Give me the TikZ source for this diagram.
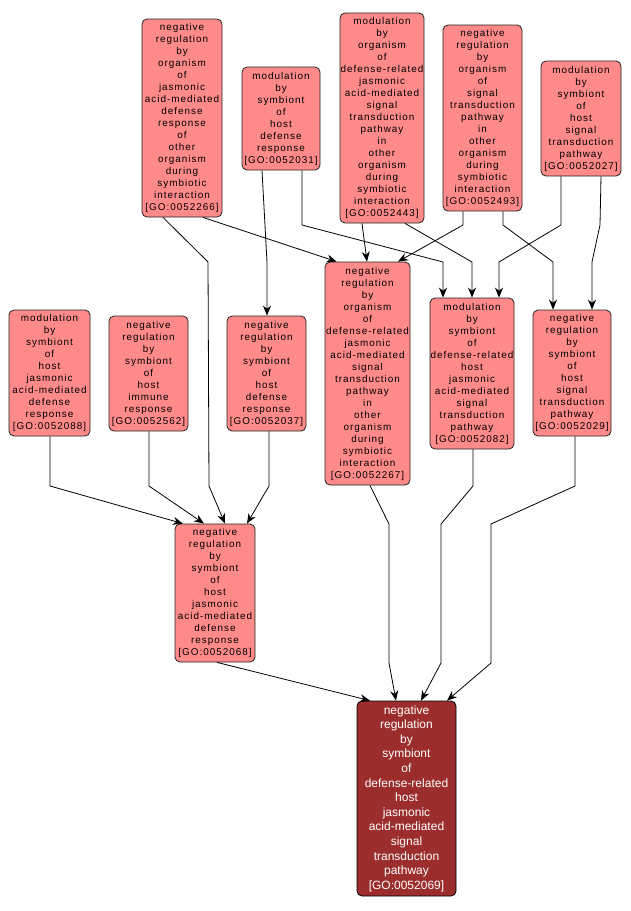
\documentclass[tikz,border=0pt]{standalone}
\usepackage{fontspec}
\usetikzlibrary{arrows.meta,calc}
\newfontfamily\golab[LetterSpace=10]{Liberation Sans}
\newfontfamily\godk{Liberation Sans}
\definecolor{gofill}{HTML}{FF8A8A}
\definecolor{godark}{HTML}{9B2D2D}
\definecolor{goline}{HTML}{222222}
\tikzset{
  gonode/.style={draw=goline, line width=0.8pt, rounded corners=5pt, fill=gofill,
    align=center, inner sep=0pt, text=black,
    font={\golab\fontsize{9.9}{12}\selectfont}},
  gotarget/.style={draw=black, line width=0.8pt, rounded corners=5pt, fill=godark,
    align=center, inner sep=0pt, text=white,
    font={\godk\fontsize{12}{14.6}\selectfont}},
  goedge/.style={draw=black, line width=0.8pt, -{Stealth[length=10pt,width=8pt]}}
}
\begin{document}
\begin{tikzpicture}[x=1pt,y=-1pt]
\useasboundingbox (0,0) rectangle (630,911);
\fill[white] (0,0) rectangle (630,911);

% top row
\node[gonode, minimum width=80pt, minimum height=198pt] (n266) at (182,118)
 {negative\\regulation\\by\\organism\\of\\jasmonic\\acid-mediated\\defense\\response\\of\\other\\organism\\during\\symbiotic\\interaction\\{[}GO:0052266{]}};
\node[gonode, minimum width=78pt, minimum height=103pt] (n031) at (281,118.5)
 {modulation\\by\\symbiont\\of\\host\\defense\\response\\{[}GO:0052031{]}};
\node[gonode, minimum width=84pt, minimum height=210pt] (n443) at (382,118)
 {modulation\\by\\organism\\of\\defense-related\\jasmonic\\acid-mediated\\signal\\transduction\\pathway\\in\\other\\organism\\during\\symbiotic\\interaction\\{[}GO:0052443{]}};
\node[gonode, minimum width=79pt, minimum height=186pt] (n493) at (482.5,118)
 {negative\\regulation\\by\\organism\\of\\signal\\transduction\\pathway\\in\\other\\organism\\during\\symbiotic\\interaction\\{[}GO:0052493{]}};
\node[gonode, minimum width=80pt, minimum height=115pt] (n027) at (581,118.5)
 {modulation\\by\\symbiont\\of\\host\\signal\\transduction\\pathway\\{[}GO:0052027{]}};

% middle row
\node[gonode, minimum width=81pt, minimum height=126pt] (n088) at (49.5,373)
 {modulation\\by\\symbiont\\of\\host\\jasmonic\\acid-mediated\\defense\\response\\{[}GO:0052088{]}};
\node[gonode, minimum width=79pt, minimum height=115pt] (n562) at (148.5,373.5)
 {negative\\regulation\\by\\symbiont\\of\\host\\immune\\response\\{[}GO:0052562{]}};
\node[gonode, minimum width=79pt, minimum height=115pt] (n037) at (266.5,373.5)
 {negative\\regulation\\by\\symbiont\\of\\host\\defense\\response\\{[}GO:0052037{]}};
\node[gonode, minimum width=85pt, minimum height=223pt] (n267) at (367.5,373.5)
 {negative\\regulation\\by\\organism\\of\\defense-related\\jasmonic\\acid-mediated\\signal\\transduction\\pathway\\in\\other\\organism\\during\\symbiotic\\interaction\\{[}GO:0052267{]}};
\node[gonode, minimum width=84pt, minimum height=151pt] (n082) at (472,373.5)
 {modulation\\by\\symbiont\\of\\defense-related\\host\\jasmonic\\acid-mediated\\signal\\transduction\\pathway\\{[}GO:0052082{]}};
\node[gonode, minimum width=78pt, minimum height=126pt] (n029) at (572,373)
 {negative\\regulation\\by\\symbiont\\of\\host\\signal\\transduction\\pathway\\{[}GO:0052029{]}};

% lower
\node[gonode, minimum width=80pt, minimum height=138pt] (n068) at (215,593)
 {negative\\regulation\\by\\symbiont\\of\\host\\jasmonic\\acid-mediated\\defense\\response\\{[}GO:0052068{]}};
\node[gotarget, minimum width=99pt, minimum height=195pt] (n069) at (406.5,798.5)
 {negative\\regulation\\by\\symbiont\\of\\defense-related\\host\\jasmonic\\acid-mediated\\signal\\transduction\\pathway\\{[}GO:0052069{]}};

% edges
\draw[goedge] ($(n266.south)+(-19,0)$) -- (208,262) -- (209,486) -- ($(n068.north)+(10,0)$);
\draw[goedge] ($(n266.south)+(21,0)$) -- ($(n267.north west)+(12,0)$);
\draw[goedge] ($(n031.south)+(-19,0)$) -- (267,262) -- ($(n037.north)+(0.5,0)$);
\draw[goedge] ($(n031.south)+(21,0)$) -- (302,225) -- (443,262) -- ($(n082.north)+(-29,0)$);
\draw[goedge] ($(n443.south)+(-20,0)$) -- ($(n267.north)+(-0.5,0)$);
\draw[goedge] ($(n443.south)+(23,0)$) -- (472,262) -- (n082.north);
\draw[goedge] ($(n493.south)+(-19.5,0)$) -- (463,225) -- ($(n267.north)+(30.5,0)$);
\draw[goedge] ($(n493.south)+(20.5,0)$) -- (503,225) -- (553,262) -- ($(n029.north)+(-19,0)$);
\draw[goedge] ($(n027.south)+(-20,0)$) -- (561,225) -- (499,262) -- ($(n082.north)+(27,0)$);
\draw[goedge] ($(n027.south)+(20,0)$) -- (600,225) -- (592,262) -- ($(n029.north)+(20,0)$);
\draw[goedge] ($(n088.south)+(0.5,0)$) -- (50,486) -- ($(n068.north)+(-32,0)$);
\draw[goedge] ($(n562.south)+(0.5,0)$) -- (149,486) -- ($(n068.north)+(-11,0)$);
\draw[goedge] ($(n037.south)+(2.5,0)$) -- (269,486) -- ($(n068.north)+(32,0)$);
\draw[goedge] ($(n068.south)+(2,0)$) -- ($(n069.north)+(-36.5,0)$);
\draw[goedge] ($(n267.south)+(2.5,0)$) -- (389,524) -- (389,663) -- ($(n069.north)+(-10.5,0)$);
\draw[goedge] ($(n082.south)+(1,0)$) -- (473,486) -- (441,524) -- (441,663) -- ($(n069.north)+(14.5,0)$);
\draw[goedge] ($(n029.south)+(3,0)$) -- (575,486) -- (491,524) -- (491,663) -- ($(n069.north)+(40.5,0)$);
\end{tikzpicture}
\end{document}
